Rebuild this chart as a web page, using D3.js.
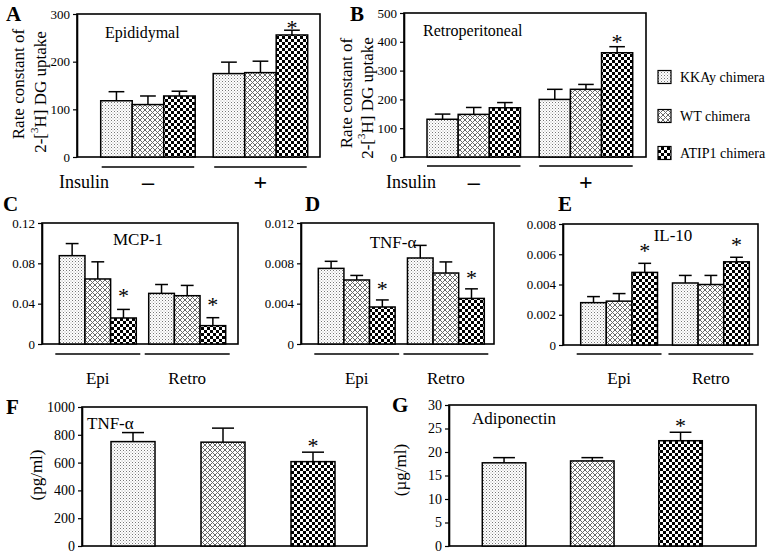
<!DOCTYPE html>
<html>
<head>
<meta charset="utf-8">
<script src="https://cdn.jsdelivr.net/npm/d3@7"></script>
<style>
  body { margin: 0; background: #fff; }
  svg { display: block; }
  text { font-family: "Liberation Serif", "Times New Roman", serif; }
</style>
</head>
<body>
<div id="chart"></div>
<script>
// chimera groups (legend order)
const SERIES = ["KKAy chimera", "WT chimera", "ATIP1 chimera"];
const INSULIN = ["\u2013", "+"];
const DEPOT = ["Epi", "Retro"];

// A: epididymal 2-DG uptake, insulin - / +
const epiUptake = [[118, 110, 128], [175, 177, 256]];
const epiUptakeSem = [[19, 18, 10], [24, 24, 10]];
const epiUptakeStar = [[0, 0, 0], [0, 0, 1]];

// B: retroperitoneal 2-DG uptake
const retroUptake = [[131, 148, 171], [200, 235, 362]];
const retroUptakeSem = [[18, 24, 18], [35, 17, 21]];
const retroUptakeStar = [[0, 0, 0], [0, 0, 1]];

// C: MCP-1 mRNA
const mcp1 = [[0.0876, 0.0645, 0.0258], [0.0502, 0.0479, 0.0182]];
const mcp1Sem = [[0.012, 0.017, 0.0085], [0.0088, 0.0102, 0.0079]];
const mcp1Star = [[0, 0, 1], [0, 0, 1]];

// D: TNF-alpha mRNA
const tnfMrna = [[0.0075, 0.00635, 0.00367], [0.00853, 0.00704, 0.00452]];
const tnfMrnaSem = [[0.0007, 0.00045, 0.0007], [0.00125, 0.0011, 0.00095]];
const tnfMrnaStar = [[0, 0, 1], [0, 0, 1]];

// E: IL-10 mRNA
const il10 = [[0.0028, 0.0029, 0.0048], [0.0041, 0.0040, 0.0055]];
const il10Sem = [[0.0004, 0.0005, 0.0006], [0.0005, 0.0006, 0.0003]];
const il10Star = [[0, 0, 1], [0, 0, 1]];

// F: serum TNF-alpha (pg/ml)
const tnfSerum = [[751, 747, 607]];
const tnfSerumSem = [[65, 101, 68]];
const tnfSerumStar = [[0, 0, 1]];

// G: serum adiponectin (ug/ml)
const adipo = [[17.7, 18.1, 22.4]];
const adipoSem = [[1.1, 0.7, 1.8]];
const adipoStar = [[0, 0, 1]];

const W = 768, H = 555;
const svg = d3.select("#chart").append("svg").attr("width", W).attr("height", H);

// fill patterns
const defs = svg.append("defs");
const pDots = defs.append("pattern").attr("id", "p0")
  .attr("patternUnits", "userSpaceOnUse").attr("width", 3).attr("height", 3);
pDots.append("rect").attr("width", 3).attr("height", 3).attr("fill", "#fff");
pDots.append("rect").attr("width", 1).attr("height", 1).attr("fill", "#777");
pDots.append("rect").attr("x", 1.5).attr("y", 1.5).attr("width", 1).attr("height", 1).attr("fill", "#aaa");

const pHatch = defs.append("pattern").attr("id", "p1")
  .attr("patternUnits", "userSpaceOnUse").attr("width", 5).attr("height", 5);
pHatch.append("rect").attr("width", 5).attr("height", 5).attr("fill", "#fff");
pHatch.append("path").attr("d", "M0,0L5,5M5,0L0,5")
  .attr("stroke", "#6a6a6a").attr("stroke-width", 1);

const pCheck = defs.append("pattern").attr("id", "p2")
  .attr("patternUnits", "userSpaceOnUse").attr("width", 6).attr("height", 6);
pCheck.append("rect").attr("width", 6).attr("height", 6).attr("fill", "#fff");
pCheck.append("rect").attr("width", 3).attr("height", 3).attr("fill", "#000");
pCheck.append("rect").attr("x", 3).attr("y", 3).attr("width", 3).attr("height", 3).attr("fill", "#000");

const fills = ["url(#p0)", "url(#p1)", "url(#p2)"];
const decFmt = (d) => (d === 0 ? "0" : String(+d.toFixed(4)));

function drawPanel(p) {
  const g = svg.append("g");
  const y = d3.scaleLinear().domain(p.domain).range([p.box.b, p.box.t]);
  const gx = d3.scaleBand().domain(d3.range(p.means.length)).range(p.barRange).paddingInner(p.pad || 0);
  const sx = d3.scaleBand().domain(SERIES).range([0, gx.bandwidth()]).paddingInner(p.innerPad || 0);

  // frame
  g.append("rect")
    .attr("x", p.box.l).attr("y", p.box.t)
    .attr("width", p.box.r - p.box.l).attr("height", p.box.b - p.box.t)
    .attr("fill", "none").attr("stroke", "#000").attr("stroke-width", 1.6);

  const ax = g.append("g")
    .attr("transform", `translate(${p.box.l},0)`)
    .call(d3.axisLeft(y).tickValues(p.ticks).tickFormat(p.fmt || d3.format("d")).tickSize(4).tickSizeOuter(0));
  ax.select(".domain").attr("stroke-width", 1.6);
  ax.selectAll(".tick line").attr("stroke-width", 1.2);
  ax.selectAll("text").attr("font-size", p.tickSize).attr("fill", "#000")
    .style("font-family", "'Liberation Serif', serif");

  p.means.forEach((row, gi) => {
    row.forEach((v, si) => {
      const x0 = gx(gi) + sx(SERIES[si]);
      const bw = sx.bandwidth();
      const top = v + p.sem[gi][si];
      const cx = x0 + bw / 2;
      // error bar (upper only)
      g.append("line").attr("x1", cx).attr("x2", cx)
        .attr("y1", y(v)).attr("y2", y(top))
        .attr("stroke", "#000").attr("stroke-width", 1.5);
      g.append("line").attr("x1", cx - bw * 0.25).attr("x2", cx + bw * 0.25)
        .attr("y1", y(top)).attr("y2", y(top))
        .attr("stroke", "#000").attr("stroke-width", 1.5);
      g.append("rect")
        .attr("x", x0).attr("y", y(v))
        .attr("width", bw).attr("height", y(0) - y(v))
        .attr("fill", fills[si]).attr("stroke", "#000").attr("stroke-width", 1.5);
      if (p.stars[gi][si]) {
        g.append("text")
          .attr("x", cx).attr("y", y(top) - p.starGap + 10)
          .attr("text-anchor", "middle").attr("font-size", 22)
          .text("*");
      }
    });
  });

  // group underlines and labels
  if (p.groupLabels) {
    p.groupLabels.forEach((lab, gi) => {
      g.append("line")
        .attr("x1", gx(gi) - p.underExt).attr("x2", gx(gi) + gx.bandwidth() + p.underExt)
        .attr("y1", p.underY).attr("y2", p.underY)
        .attr("stroke", "#000").attr("stroke-width", 1.5);
      g.append("text")
        .attr("x", gx(gi) + gx.bandwidth() / 2).attr("y", p.labelY)
        .attr("text-anchor", "middle").attr("font-size", p.labelSize)
        .attr("font-weight", p.labelWeight || "normal")
        .text(lab);
    });
  }

  // panel title inside frame
  g.append("text")
    .attr("x", p.title.x).attr("y", p.title.y)
    .attr("text-anchor", p.title.anchor || "start")
    .attr("font-size", p.title.size)
    .text(p.title.text);

  // panel letter
  g.append("text")
    .attr("x", p.letter.x).attr("y", p.letter.y)
    .attr("font-size", 21).attr("font-weight", "bold")
    .text(p.letter.text);

  // y axis title lines
  (p.yTitle || []).forEach((t) => {
    const yt = g.append("text")
      .attr("transform", `translate(${t.x},${t.y}) rotate(-90)`)
      .attr("text-anchor", "middle").attr("dominant-baseline", "central")
      .attr("font-size", t.size);
    if (t.sup) {
      yt.append("tspan").text(t.pre);
      yt.append("tspan").attr("baseline-shift", "super").attr("font-size", t.size * 0.65).text(t.sup);
      yt.append("tspan").text(t.post);
    } else {
      yt.text(t.text);
    }
  });
}

const uptakeTitle = (x1, x2, c1, c2) => [
  { x: x1, y: c1, size: 17, text: "Rate constant of" },
  { x: x2, y: c2, size: 17, sup: "3", pre: "2-[", post: "H] DG uptake" }
];

drawPanel({
  box: { l: 77, t: 14, r: 320, b: 157 }, domain: [0, 300], ticks: [0, 100, 200, 300], tickSize: 13,
  means: epiUptake, sem: epiUptakeSem, stars: epiUptakeStar, starGap: 5,
  barRange: [100.7, 307.7], pad: 0.16,
  groupLabels: INSULIN, underY: 167, underExt: -1, labelY: 190, labelSize: 24, labelWeight: "bold",
  title: { x: 105, y: 38, size: 16, text: "Epididymal" },
  letter: { x: 6, y: 21, text: "A" },
  yTitle: uptakeTitle(18, 40, 84, 92)
});

drawPanel({
  box: { l: 404, t: 13, r: 646, b: 157 }, domain: [0, 500], ticks: [0, 100, 200, 300, 400, 500], tickSize: 13,
  means: retroUptake, sem: retroUptakeSem, stars: retroUptakeStar, starGap: 8,
  barRange: [427, 632.7], pad: 0.167,
  groupLabels: INSULIN, underY: 166, underExt: 0, labelY: 190, labelSize: 24, labelWeight: "bold",
  title: { x: 423, y: 36, size: 16, text: "Retroperitoneal" },
  letter: { x: 350, y: 21, text: "B" },
  yTitle: uptakeTitle(346, 367, 93, 98)
});

drawPanel({
  box: { l: 42, t: 223, r: 238, b: 344 }, domain: [0, 0.12], ticks: [0, 0.04, 0.08, 0.12], fmt: decFmt, tickSize: 13,
  means: mcp1, sem: mcp1Sem, stars: mcp1Star, starGap: 16,
  barRange: [59.3, 225.7], pad: 0.139,
  groupLabels: DEPOT, underY: 354, underExt: 4, labelY: 384, labelSize: 17,
  title: { x: 138, y: 245, size: 17, anchor: "middle", text: "MCP-1" },
  letter: { x: 3, y: 211, text: "C" }
});

drawPanel({
  box: { l: 301, t: 223, r: 494, b: 344 }, domain: [0, 0.012], ticks: [0, 0.004, 0.008, 0.012], fmt: decFmt, tickSize: 13,
  means: tnfMrna, sem: tnfMrnaSem, stars: tnfMrnaStar, starGap: 14,
  barRange: [318.3, 484.3], pad: 0.138,
  groupLabels: DEPOT, underY: 354, underExt: 4, labelY: 384, labelSize: 17,
  title: { x: 393, y: 248, size: 17, anchor: "middle", text: "TNF-\u03b1" },
  letter: { x: 305, y: 211, text: "D" }
});

drawPanel({
  box: { l: 563, t: 224, r: 758, b: 345 }, domain: [0, 0.008], ticks: [0, 0.002, 0.004, 0.006, 0.008], fmt: decFmt, tickSize: 13,
  means: il10, sem: il10Sem, stars: il10Star, starGap: 15,
  barRange: [580.7, 749.3], pad: 0.163,
  groupLabels: DEPOT, underY: 354, underExt: 4, labelY: 384, labelSize: 17,
  title: { x: 673, y: 241, size: 17, anchor: "middle", text: "IL-10" },
  letter: { x: 558, y: 211, text: "E" }
});

drawPanel({
  box: { l: 82, t: 407, r: 367, b: 546 }, domain: [0, 1000], ticks: d3.range(0, 1001, 200), tickSize: 14,
  means: tnfSerum, sem: tnfSerumSem, stars: tnfSerumStar, starGap: 9,
  barRange: [111, 335], innerPad: 0.511,
  title: { x: 87, y: 429, size: 17, text: "TNF-\u03b1" },
  letter: { x: 6, y: 414, text: "F" },
  yTitle: [{ x: 36, y: 475, size: 17, text: "(pg/ml)" }]
});

drawPanel({
  box: { l: 449, t: 405, r: 756, b: 546 }, domain: [0, 30], ticks: d3.range(0, 31, 5), tickSize: 14,
  means: adipo, sem: adipoSem, stars: adipoStar, starGap: 9,
  barRange: [482.3, 702.3], innerPad: 0.507,
  title: { x: 472, y: 424, size: 17, text: "Adiponectin" },
  letter: { x: 392, y: 412, text: "G" },
  yTitle: [{ x: 400, y: 470, size: 17, text: "(\u00b5g/ml)" }]
});

// "Insulin" row labels under A and B
svg.append("text").attr("x", 59).attr("y", 188).attr("font-size", 18).text("Insulin");
svg.append("text").attr("x", 386).attr("y", 188).attr("font-size", 18).text("Insulin");

// legend
const leg = svg.append("g").attr("transform", "translate(658,0)");
const legY = [77, 116, 153];
SERIES.forEach((s, i) => {
  leg.append("rect").attr("x", 0).attr("y", legY[i] - 6.5)
    .attr("width", 13).attr("height", 13)
    .attr("fill", fills[i]).attr("stroke", "#000").attr("stroke-width", 1.2);
  leg.append("text").attr("x", 22).attr("y", legY[i] + 5)
    .attr("font-size", 14).text(s);
});
</script>
</body>
</html>
